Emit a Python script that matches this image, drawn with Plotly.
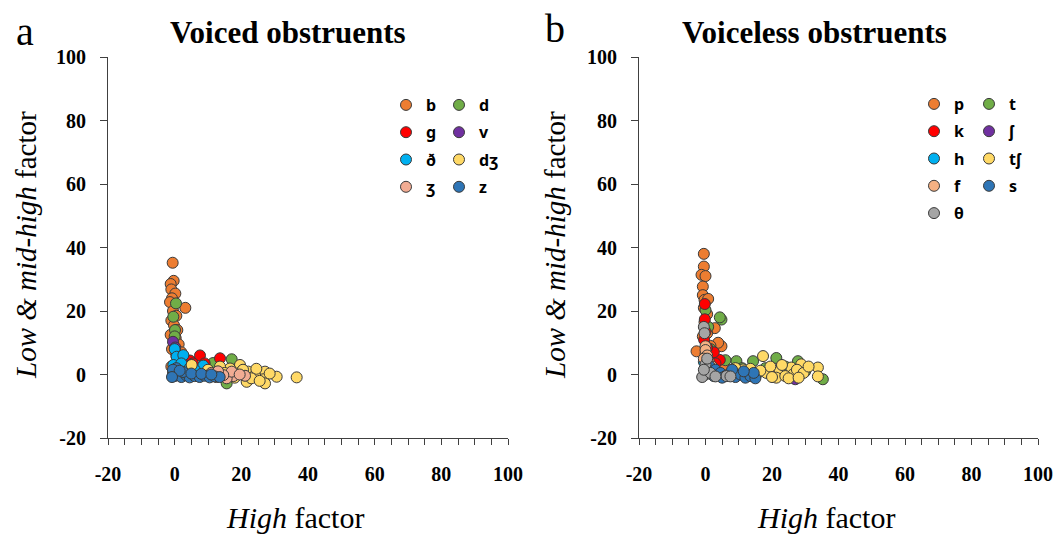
import plotly.graph_objects as go

# ---------------- Data ----------------
# Panel a: voiced obstruents
b_x = [-0.6, -0.3, -1.2, -1.0, 0.2, -0.8, -1.4, 3.2, -0.5, 0.5, -1.0, -0.2, 0.8, -1.2, 0.3, 1.2, -0.8, 2.0, 0.5, 3.5, 1.5, 5.0, -1.0, 2.5, 6.5, 8.0]
b_y = [35.2, 29.5, 28.5, 26.8, 25.5, 24.0, 22.8, 21.0, 20.0, 18.5, 17.0, 15.5, 14.0, 12.5, 11.5, 9.5, 8.0, 7.0, 6.0, 4.5, 3.5, 3.0, 2.5, 1.5, 2.0, 1.0]
d_x = [0.4, -0.4, 0.1, 17.1, 11.5, 0.0, 5.0, 15.6]
d_y = [22.4, 18.2, 14.0, 4.8, 3.6, 12.0, 1.0, -2.8]
g_x = [7.6, 13.6, 4.6, 5.5, 3.0, 9.0]
g_y = [6.0, 5.1, 4.4, 3.5, 3.0, 3.5]
v_x = [-0.5, 0.2, 2.0]
v_y = [10.3, 8.5, 2.0]
dh_x = [0.0, 0.6, 2.6, -0.4, 8.6, 2.0, 0.5, 4.5, 6.0]
dh_y = [8.0, 5.6, 6.1, 3.0, 2.8, 3.5, 1.5, 2.0, 1.5]
dzh_x = [30.6, 36.6, 27.1, 26.6, 27.1, 22.1, 19.6, 16.6, 13.6, 5.1, 21.6, 24.1, 19.1, 24.5, 18.0, 23.0, 10.0, 15.0, 28.5, 20.5, 25.5]
dzh_y = [-0.7, -0.9, 0.9, -1.5, -2.8, 0.9, 3.0, 1.9, 2.5, 3.0, -2.3, -0.2, 0.4, 1.8, -1.0, -1.2, 1.5, 0.5, 0.3, 1.5, -2.0]
zh_x = [17.6, 21.1, 15.6, 17.1, 14.6, 11.0, 19.5, 12.5, 13.0]
zh_y = [-0.5, -0.4, -1.2, 0.9, -0.2, 0.5, 0.0, -0.8, 1.0]
z_x = [-0.5, 0.0, 1.0, 2.0, 3.5, 4.5, 6.0, 7.5, 9.0, 10.5, 12.0, 13.5, 0.5, -0.5, 2.5, 5.0, 8.0, 11.0, 1.5, -0.8]
z_y = [0.5, -0.5, 0.0, -0.8, -0.3, -0.9, -0.5, -0.8, -0.4, -0.9, -0.6, -0.8, 2.0, 1.5, 0.8, 0.3, 0.2, 0.0, 1.2, -0.8]

# Panel b: voiceless obstruents
p_x = [-0.5, -0.5, -1.2, 0.0, -0.8, -0.8, -0.3, 0.8, -0.5, 0.5, -0.3, 2.8, 0.5, -0.8, 4.8, 3.8, -2.7, 1.5, 0.0, 2.0, 5.5]
p_y = [38.0, 34.0, 31.4, 31.0, 27.7, 25.0, 23.5, 23.8, 21.0, 19.0, 16.5, 14.6, 13.0, 12.0, 8.9, 10.0, 7.3, 9.0, 6.5, 5.0, 3.0]
t_x = [4.8, 4.3, 0.0, 21.3, 27.8, 35.3, 14.3, 9.3, 1.5, 6.0, 24.0, 30.0, 18.0, 11.0, 0.8]
t_y = [17.3, 18.0, 20.3, 5.2, 4.2, -1.5, 4.2, 4.2, 8.0, 4.5, 2.5, 1.0, 2.0, 2.0, 15.0]
k_x = [-0.2, -0.2, -0.4, 1.3, 4.3, 0.0, 2.5, 0.5, 3.0]
k_y = [22.2, 17.4, 10.9, 5.8, 4.6, 13.5, 7.0, 8.5, 3.5]
sh_x = [8.0, 27.0, 20.0]
sh_y = [1.0, -1.5, 0.5]
h_x = [0.5, -0.5]
h_y = [2.0, 4.0]
tsh_x = [17.3, 33.8, 33.8, 28.8, 25.8, 22.3, 18.3, 15.3, 26.3, 21.3, 11.3, 13.5, 19.5, 24.0, 27.5, 29.5, 23.0, 20.0, 16.5, 25.0, 9.0, 28.0, 31.0]
tsh_y = [5.8, 2.2, -0.6, 3.2, 2.2, 1.1, 0.5, 0.0, 0.0, -1.0, 1.6, 1.8, 2.5, -0.5, 1.5, 0.5, 3.0, -0.8, 1.2, -1.2, 2.0, -1.0, 2.5]
f_x = [0.0, 0.0, 0.5, -0.5, 1.0, 0.3, 2.0]
f_y = [8.9, 7.7, 6.0, 5.0, 4.0, 3.0, 2.5]
s_x = [1.3, 3.0, 4.5, 6.0, 7.5, 9.0, 10.5, 12.0, 13.5, 15.0, 14.5, 5.0, 8.0, 11.5, 2.5]
s_y = [2.5, 1.5, 0.5, -0.5, 0.5, -0.8, 0.0, -1.0, -0.5, -1.2, 0.5, -1.0, 1.5, 1.0, -0.5]
th_x = [-0.5, -0.3, 0.0, 0.0, 6.3, -1.0, 1.5, -0.5, 3.0, 7.5, 0.5]
th_y = [15.0, 13.0, 3.2, 0.0, -0.5, -0.8, 0.5, 1.5, -0.6, -0.6, 5.0]

tick_vals = [-20, 0, 20, 40, 60, 80, 100]
tick_text = ["-20", "0", "20", "40", "60", "80", "100"]

# series: (label, x, y, color, legend)
series_a = [
    ("b", b_x, b_y, "#ED7D31", "legend"),
    ("d", d_x, d_y, "#70AD47", "legend2"),
    ("g", g_x, g_y, "#FF0000", "legend"),
    ("v", v_x, v_y, "#7030A0", "legend2"),
    ("ð", dh_x, dh_y, "#00B0F0", "legend"),
    ("dʒ", dzh_x, dzh_y, "#FFD966", "legend2"),
    ("ʒ", zh_x, zh_y, "#F2AC93", "legend"),
    ("z", z_x, z_y, "#2E75B6", "legend2"),
]
series_b = [
    ("p", p_x, p_y, "#ED7D31", "legend3"),
    ("t", t_x, t_y, "#70AD47", "legend4"),
    ("k", k_x, k_y, "#FF0000", "legend3"),
    ("ʃ", sh_x, sh_y, "#7030A0", "legend4"),
    ("h", h_x, h_y, "#00B0F0", "legend3"),
    ("tʃ", tsh_x, tsh_y, "#FFD966", "legend4"),
    ("f", f_x, f_y, "#F4B183", "legend3"),
    ("s", s_x, s_y, "#2E75B6", "legend4"),
    ("θ", th_x, th_y, "#A5A5A5", "legend3"),
]

fig = go.Figure()
for i, (name, xs, ys, col, leg) in enumerate(series_a):
    fig.add_trace(go.Scatter(x=xs, y=ys, mode="markers", name=name,
                             marker=dict(size=11, color=col, line=dict(color="#3a3a3a", width=1)),
                             xaxis="x", yaxis="y", legend=leg, legendgroup="a" + str(i)))
for i, (name, xs, ys, col, leg) in enumerate(series_b):
    fig.add_trace(go.Scatter(x=xs, y=ys, mode="markers", name=name,
                             marker=dict(size=11, color=col, line=dict(color="#3a3a3a", width=1)),
                             xaxis="x2", yaxis="y2", legend=leg, legendgroup="b" + str(i)))

W, H = 1057, 539
def px(x):
    return x / W
def py(y):
    return 1 - y / H

tickfont = dict(family="Liberation Serif", size=20, color="#000000", weight="bold")
def xax(domain, anchor):
    return dict(domain=domain, anchor=anchor, range=[-20, 100], tickvals=tick_vals, ticktext=tick_text,
                showline=True, linecolor="#404040", linewidth=1, showgrid=False, zeroline=False,
                ticks="outside", ticklen=6, tickcolor="#404040", tickfont=tickfont,
                ticklabelstandoff=12, automargin=False,
                minor=dict(dtick=5, tick0=0, ticks="outside", ticklen=6, tickcolor="#404040", showgrid=False))
def yax(domain, anchor):
    return dict(domain=domain, anchor=anchor, range=[-20, 100], tickvals=tick_vals, ticktext=tick_text,
                showline=True, linecolor="#404040", linewidth=1, showgrid=False, zeroline=False,
                ticks="outside", ticklen=7, tickcolor="#404040", tickfont=tickfont,
                ticklabelstandoff=10, automargin=False)

ydom = [py(438), py(57)]
legfont = dict(family="Noto Sans, DejaVu Sans", size=16, color="#000000", weight="bold")
def leg(x, y):
    return dict(x=px(x), y=py(y), xanchor="left", yanchor="top", font=legfont,
                bgcolor="rgba(0,0,0,0)", traceorder="grouped", tracegroupgap=3.5, itemwidth=30)

fig.update_layout(
    width=W, height=H, margin=dict(l=0, r=0, t=0, b=0, autoexpand=False),
    plot_bgcolor="white", paper_bgcolor="white",
    xaxis=xax([px(108), px(508)], "y"), yaxis=yax(ydom, "x"),
    xaxis2=xax([px(639), px(1038)], "y2"), yaxis2=yax(ydom, "x2"),
    legend=leg(386, 88), legend2=leg(439, 88),
    legend3=leg(914, 87), legend4=leg(969, 87),
)

serif = "Liberation Serif"
ann = []
ann.append(dict(x=px(288), y=py(33), text="<b>Voiced obstruents</b>", font=dict(family=serif, size=31, color="#000")))
ann.append(dict(x=px(814), y=py(33), text="<b>Voiceless obstruents</b>", font=dict(family=serif, size=31, color="#000")))
ann.append(dict(x=px(25), y=py(31), text="a", font=dict(family=serif, size=40, color="#000")))
ann.append(dict(x=px(555), y=py(28), text="b", font=dict(family=serif, size=40, color="#000")))
ytitle = "<i>Low &amp; mid-high</i> factor"
ann.append(dict(x=px(26), y=py(245), text=ytitle, textangle=-90, font=dict(family=serif, size=29, color="#000")))
ann.append(dict(x=px(555), y=py(245), text=ytitle, textangle=-90, font=dict(family=serif, size=29, color="#000")))
ann.append(dict(x=px(295), y=py(517), text="<i>High</i> factor", font=dict(family=serif, size=30, color="#000")))
ann.append(dict(x=px(826), y=py(517), text="<i>High</i> factor", font=dict(family=serif, size=30, color="#000")))
for a in ann:
    a.update(xref="paper", yref="paper", showarrow=False, xanchor="center", yanchor="middle")
fig.update_layout(annotations=ann)

fig.write_html("out.html", config={"displayModeBar": False},
               post_script="document.body.style.margin='0';document.body.style.overflow='hidden';")
